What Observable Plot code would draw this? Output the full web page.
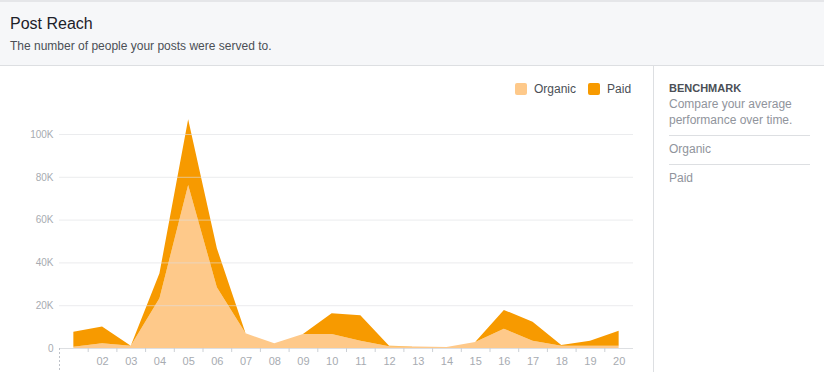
<!DOCTYPE html>
<html>
<head>
<meta charset="utf-8">
<script src="https://cdn.jsdelivr.net/npm/d3@7"></script>
<script src="https://cdn.jsdelivr.net/npm/@observablehq/plot@0.6"></script>
<style>
  html, body { margin: 0; padding: 0; background: #fff; }
  body { width: 824px; height: 372px; position: relative; overflow: hidden; font-family: Helvetica, Arial, "Liberation Sans", sans-serif; }
  #header { position: absolute; left: 0; top: 0; width: 824px; height: 63px; background: #f6f7f9; border-top: 2px solid #e5e6e9; border-bottom: 1px solid #dddfe2; }
  #title { position: absolute; left: 10px; top: 13px; font-size: 16px; color: #1d2129; }
  #subtitle { position: absolute; left: 10px; top: 37px; font-size: 12px; color: #4b4f56; }
  #chart { position: absolute; left: 0; top: 66px; }
  #legend { position: absolute; top: 82px; left: 515px; font-size: 12px; color: #4b4f56; display: flex; align-items: center; }
  .sw { width: 12px; height: 12px; border-radius: 2px; display: inline-block; margin-right: 7px; }
  .item { display: flex; align-items: center; margin-right: 12px; line-height: 14px; }
  #side { position: absolute; left: 653px; top: 66px; width: 171px; height: 306px; border-left: 1px solid #dddfe2; }
  #side .inner { position: absolute; left: 15px; width: 141px; }
  #bench { top: 16px; font-size: 11px; font-weight: bold; color: #4b4f56; }
  #bdesc { top: 30px; font-size: 12px; line-height: 16px; color: #90949c; }
  .opt { font-size: 12px; color: #90949c; border-top: 1px solid #dddfe2; padding-top: 6px; }
</style>
</head>
<body>
<div id="header">
  <div id="title">Post Reach</div>
  <div id="subtitle">The number of people your posts were served to.</div>
</div>
<div id="chart"></div>
<div id="legend">
  <div class="item"><span class="sw" style="background:#fec98a"></span>Organic</div>
  <div class="item"><span class="sw" style="background:#f79a00"></span>Paid</div>
</div>
<div id="side">
  <div class="inner" id="bench">BENCHMARK</div>
  <div class="inner" id="bdesc">Compare your average performance over time.</div>
  <div class="inner opt" style="top:69px">Organic</div>
  <div class="inner opt" style="top:98px">Paid</div>
</div>
<script>
const days = [1,2,3,4,5,6,7,8,9,10,11,12,13,14,15,16,17,18,19,20];
const organic = [600, 2200, 1000, 23200, 76200, 28400, 6900, 2200, 6500, 6500, 3400, 800, 700, 500, 2800, 9000, 3400, 1100, 1000, 1000];
const total   = [7600, 10000, 1000, 34900, 106900, 46600, 6900, 2200, 6500, 16200, 15300, 1000, 700, 500, 2800, 17800, 12300, 1400, 3400, 8100];
const paid = total.map((t, i) => Math.max(0, t - organic[i]));
const series = ["Organic", "Paid"];
const colors = ["#fec98a", "#f79a00"];
const yTicks = [0, 20000, 40000, 60000, 80000, 100000];
const xLabelDays = days.slice(1);

const rows = [];
days.forEach((d, i) => {
  rows.push({day: d, type: "Organic", value: organic[i]});
  rows.push({day: d, type: "Paid", value: paid[i]});
});

const tickPos = days.slice(0, -1).map(d => d + 0.5);

const chart = Plot.plot({
  width: 653,
  height: 306,
  marginLeft: 59,
  marginRight: 20,
  marginTop: 68,
  marginBottom: 24,
  style: {fontFamily: "Helvetica, Arial, 'Liberation Sans', sans-serif", background: "transparent"},
  x: {domain: [0.5, 20.5], axis: null, label: null},
  y: {domain: [0, 100000], axis: null, label: null},
  color: {domain: series, range: colors},
  marks: [
    Plot.areaY(rows, {x: "day", y: "value", fill: "type", order: series, curve: "linear"}),
    Plot.ruleY(yTicks.slice(1), {x1: 0.5, x2: 20.5, stroke: "#dddfe2", strokeOpacity: 0.6}),
    Plot.ruleY([0], {x1: 0.5, x2: 20.5, stroke: "#dddfe2"}),
    Plot.ruleX([0.5], {y1: 0, y2: -12000, stroke: "#bec2c9", strokeDasharray: "2,2"}),
    Plot.axisY({ticks: yTicks, tickSize: 0, tickPadding: 6, fontSize: 10, color: "#a7abb1", label: null,
      tickFormat: d => d === 0 ? "0" : (d / 1000) + "K"}),
    Plot.axisX({ticks: tickPos, tickSize: 4, tickFormat: () => "", stroke: "#ccd0d5", label: null}),
    Plot.axisX({ticks: xLabelDays, tickSize: 0, tickPadding: 9, fontSize: 11, color: "#a7abb1", label: null,
      tickFormat: d => String(d).padStart(2, "0")})
  ]
});
document.getElementById("chart").appendChild(chart);
</script>
</body>
</html>
